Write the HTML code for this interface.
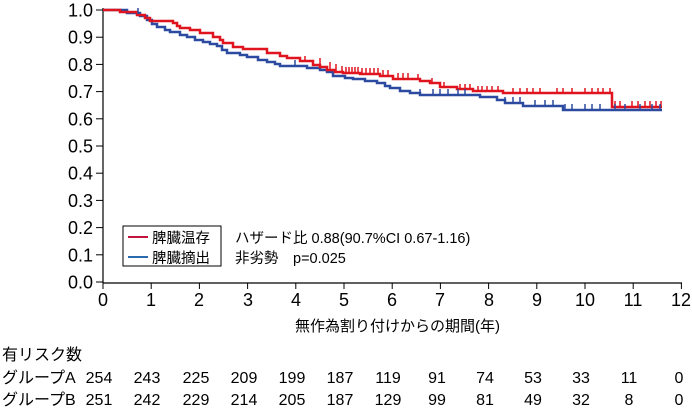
<!DOCTYPE html>
<html><head><meta charset="utf-8"><style>
body{margin:0;background:#fff;}
svg{display:block;font-family:"Liberation Sans","Noto Sans CJK JP",sans-serif;}
</style></head><body>
<svg width="692" height="414" viewBox="0 0 692 414">
<g stroke="#000" stroke-width="1.2" fill="none">
<line x1="103" y1="8" x2="103" y2="283"/>
<line x1="103" y1="283" x2="682" y2="283"/>
</g>
<g stroke="#000" stroke-width="1">
<line x1="96" y1="10.0" x2="103" y2="10.0"/><line x1="96" y1="37.2" x2="103" y2="37.2"/><line x1="96" y1="64.4" x2="103" y2="64.4"/><line x1="96" y1="91.6" x2="103" y2="91.6"/><line x1="96" y1="118.8" x2="103" y2="118.8"/><line x1="96" y1="146.0" x2="103" y2="146.0"/><line x1="96" y1="173.2" x2="103" y2="173.2"/><line x1="96" y1="200.4" x2="103" y2="200.4"/><line x1="96" y1="227.6" x2="103" y2="227.6"/><line x1="96" y1="254.8" x2="103" y2="254.8"/><line x1="96" y1="282.0" x2="103" y2="282.0"/>
<line x1="103" y1="283" x2="103" y2="289"/><line x1="151.2" y1="283" x2="151.2" y2="289"/><line x1="199.4" y1="283" x2="199.4" y2="289"/><line x1="247.6" y1="283" x2="247.6" y2="289"/><line x1="295.8" y1="283" x2="295.8" y2="289"/><line x1="344" y1="283" x2="344" y2="289"/><line x1="392.2" y1="283" x2="392.2" y2="289"/><line x1="440.4" y1="283" x2="440.4" y2="289"/><line x1="488.6" y1="283" x2="488.6" y2="289"/><line x1="536.8" y1="283" x2="536.8" y2="289"/><line x1="585" y1="283" x2="585" y2="289"/><line x1="633.2" y1="283" x2="633.2" y2="289"/><line x1="681.4" y1="283" x2="681.4" y2="289"/>
</g>
<g font-size="18" text-anchor="end" fill="#000">
<text x="93" y="16.5">1.0</text><text x="93" y="43.7">0.9</text><text x="93" y="70.9">0.8</text><text x="93" y="98.1">0.7</text><text x="93" y="125.3">0.6</text><text x="93" y="152.5">0.5</text><text x="93" y="179.7">0.4</text><text x="93" y="206.9">0.3</text><text x="93" y="234.1">0.2</text><text x="93" y="261.3">0.1</text><text x="93" y="288.5">0.0</text>
</g>
<g font-size="18" text-anchor="middle" fill="#000">
<text x="103" y="306">0</text><text x="151" y="306">1</text><text x="199" y="306">2</text><text x="248" y="306">3</text><text x="296" y="306">4</text><text x="344" y="306">5</text><text x="392" y="306">6</text><text x="440" y="306">7</text><text x="489" y="306">8</text><text x="537" y="306">9</text><text x="585" y="306">10</text><text x="633" y="306">11</text><text x="681" y="306">12</text>
</g>
<text x="295" y="331" font-size="15" fill="#000">無作為割り付けからの期間(年)</text>
<polyline fill="none" stroke="#2b4aa0" stroke-width="2.5" points="103,10 127,10 127,13 140,13 140,16 147,16 147,20 152,20 152,24 157,24 157,27 165,27 165,30 170,30 170,32 180,32 180,35 187,35 187,37 195,37 195,40 203,40 203,42 210,42 210,44 217,44 217,46 222,46 222,50 227,50 227,53 240,53 240,55 247,55 247,57 258,57 258,60 267,60 267,62 275,62 275,64 280,64 280,66 307,66 307,68 320,68 320,70 327,70 327,72 333,72 333,76 345,76 345,78 353,78 353,79 365,79 365,81 377,81 377,83 385,83 385,86 390,86 390,88 400,88 400,91 410,91 410,93 420,93 420,95 480,95 480,97 497,97 497,100 505,100 505,103 523,103 523,106 563,106 563,110 662,110"/>
<polyline fill="none" stroke="#e0141e" stroke-width="2.5" points="103,10 120,10 120,12 137,12 137,15 145,15 145,18 150,18 150,21 173,21 173,23 177,23 177,26 180,26 180,28 190,28 190,30 200,30 200,33 213,33 213,37 220,37 220,40 223,40 223,43 233,43 233,47 243,47 243,49 267,49 267,53 280,53 280,56 287,56 287,58 300,58 300,61 313,61 313,65 320,65 320,67 327,67 327,70 335,70 335,72 343,72 343,73 360,73 360,74 380,74 380,76 393,76 393,79 420,79 420,81 430,81 430,83 440,83 440,87 457,87 457,89 473,89 473,91 503,91 503,93 612,93 612,107 662,107"/>
<g stroke="#e0141e" stroke-width="1.5">
<line x1="305" y1="56" x2="305" y2="61"/><line x1="320" y1="58" x2="320" y2="65"/><line x1="330" y1="62" x2="330" y2="70"/><line x1="336" y1="64" x2="336" y2="72"/><line x1="342" y1="66" x2="342" y2="73"/><line x1="346" y1="67" x2="346" y2="73"/><line x1="349" y1="67" x2="349" y2="73"/><line x1="352" y1="67" x2="352" y2="73"/><line x1="355" y1="67" x2="355" y2="73"/><line x1="358" y1="67" x2="358" y2="73"/><line x1="362" y1="68" x2="362" y2="74"/><line x1="366" y1="68" x2="366" y2="74"/><line x1="370" y1="68" x2="370" y2="74"/><line x1="374" y1="68" x2="374" y2="74"/><line x1="378" y1="68" x2="378" y2="74"/><line x1="383" y1="70" x2="383" y2="76"/><line x1="388" y1="70" x2="388" y2="76"/><line x1="398" y1="73" x2="398" y2="79"/><line x1="403" y1="73" x2="403" y2="79"/><line x1="408" y1="73" x2="408" y2="79"/><line x1="418" y1="74" x2="418" y2="79"/><line x1="432" y1="78" x2="432" y2="83"/><line x1="444" y1="82" x2="444" y2="87"/><line x1="460" y1="84" x2="460" y2="89"/><line x1="465" y1="84" x2="465" y2="89"/><line x1="470" y1="84" x2="470" y2="89"/><line x1="478" y1="86" x2="478" y2="91"/><line x1="482" y1="86" x2="482" y2="91"/><line x1="487" y1="86" x2="487" y2="91"/><line x1="492" y1="86" x2="492" y2="91"/><line x1="498" y1="86" x2="498" y2="91"/><line x1="513" y1="88" x2="513" y2="93"/><line x1="520" y1="88" x2="520" y2="93"/><line x1="527" y1="88" x2="527" y2="93"/><line x1="533" y1="88" x2="533" y2="93"/><line x1="540" y1="88" x2="540" y2="93"/><line x1="557" y1="88" x2="557" y2="93"/><line x1="563" y1="88" x2="563" y2="93"/><line x1="572" y1="88" x2="572" y2="93"/><line x1="585" y1="88" x2="585" y2="93"/><line x1="592" y1="88" x2="592" y2="93"/><line x1="598" y1="88" x2="598" y2="93"/><line x1="603" y1="88" x2="603" y2="93"/><line x1="610" y1="88" x2="610" y2="93"/><line x1="615" y1="101" x2="615" y2="107"/><line x1="620" y1="101" x2="620" y2="107"/><line x1="632" y1="101" x2="632" y2="107"/><line x1="638" y1="101" x2="638" y2="107"/><line x1="645" y1="101" x2="645" y2="107"/><line x1="650" y1="101" x2="650" y2="107"/><line x1="656" y1="101" x2="656" y2="107"/><line x1="661" y1="101" x2="661" y2="107"/>
</g>
<g stroke="#2b4aa0" stroke-width="1.5">
<line x1="138" y1="8" x2="138" y2="14"/><line x1="295" y1="60" x2="295" y2="66"/><line x1="420" y1="89" x2="420" y2="95"/><line x1="433" y1="89" x2="433" y2="95"/><line x1="440" y1="89" x2="440" y2="95"/><line x1="448" y1="89" x2="448" y2="95"/><line x1="458" y1="89" x2="458" y2="95"/><line x1="465" y1="89" x2="465" y2="95"/><line x1="505" y1="97" x2="505" y2="103"/><line x1="513" y1="97" x2="513" y2="103"/><line x1="520" y1="97" x2="520" y2="103"/><line x1="535" y1="100" x2="535" y2="106"/><line x1="545" y1="100" x2="545" y2="106"/><line x1="553" y1="100" x2="553" y2="106"/><line x1="565" y1="104" x2="565" y2="110"/><line x1="572" y1="104" x2="572" y2="110"/><line x1="585" y1="104" x2="585" y2="110"/><line x1="592" y1="104" x2="592" y2="110"/><line x1="600" y1="104" x2="600" y2="110"/><line x1="615" y1="104" x2="615" y2="110"/><line x1="625" y1="104" x2="625" y2="110"/><line x1="640" y1="104" x2="640" y2="110"/><line x1="652" y1="104" x2="652" y2="110"/><line x1="660" y1="104" x2="660" y2="110"/>
</g>
<rect x="123" y="226" width="98" height="40" fill="#fff" stroke="#000" stroke-width="1"/>
<line x1="128" y1="237" x2="148" y2="237" stroke="#c0143c" stroke-width="2"/>
<line x1="128" y1="257" x2="148" y2="257" stroke="#2a6bb0" stroke-width="2"/>
<g font-size="14.5" fill="#000">
<text x="152" y="243">脾臓温存</text>
<text x="152" y="263">脾臓摘出</text>
<text x="235" y="243">ハザード比 0.88(90.7%CI 0.67-1.16)</text>
<text x="235" y="263">非劣勢　p=0.025</text>
</g>
<g font-size="16" fill="#000">
<text x="2" y="360">有リスク数</text>
<text x="2" y="383">グループA</text>
<text x="2" y="405">グループB</text>
</g>
<g font-size="16" fill="#000" text-anchor="middle">
<text x="99" y="383">254</text><text x="147" y="383">243</text><text x="196" y="383">225</text><text x="244" y="383">209</text><text x="292" y="383">199</text><text x="340" y="383">187</text><text x="388" y="383">119</text><text x="437" y="383">91</text><text x="485" y="383">74</text><text x="533" y="383">53</text><text x="581" y="383">33</text><text x="629" y="383">11</text><text x="679" y="383">0</text>
<text x="99" y="405">251</text><text x="147" y="405">242</text><text x="196" y="405">229</text><text x="244" y="405">214</text><text x="292" y="405">205</text><text x="340" y="405">187</text><text x="388" y="405">129</text><text x="437" y="405">99</text><text x="485" y="405">81</text><text x="533" y="405">49</text><text x="581" y="405">32</text><text x="629" y="405">8</text><text x="679" y="405">0</text>
</g>
</svg>
</body></html>
